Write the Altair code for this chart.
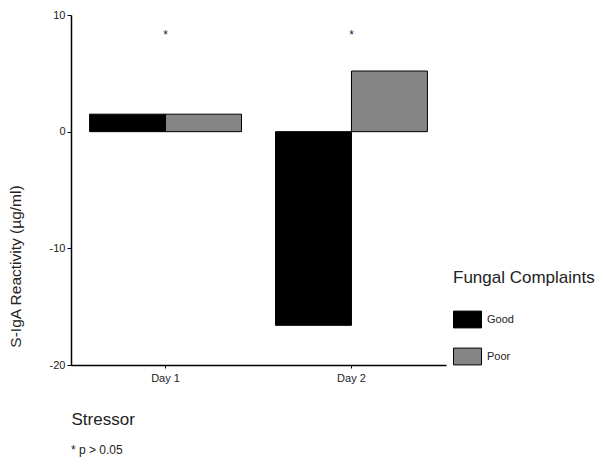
import altair as alt
import pandas as pd

days = ["Day 1", "Day 1", "Day 2", "Day 2"]
complaints = ["Good", "Poor", "Good", "Poor"]
values = [1.5, 1.5, -16.6, 5.2]

sig_days = ["Day 1", "Day 2"]
sig_marks = ["*", "*"]
sig_y = [8.3, 8.3]

df = pd.DataFrame({"Stressor": days, "Fungal Complaints": complaints, "value": values})
sig = pd.DataFrame({"Stressor": sig_days, "mark": sig_marks, "y": sig_y})

FONT = "Liberation Sans"

x_scale = alt.Scale(domain=["Day 1", "Day 2"], paddingInner=0.183, paddingOuter=0.1)
y_scale = alt.Scale(domain=[-20, 10], nice=False)

bars = alt.Chart(df).mark_bar(stroke="#000", strokeWidth=1).encode(
    x=alt.X("Stressor:N", scale=x_scale, sort=["Day 1", "Day 2"],
            axis=alt.Axis(title="Stressor", labelAngle=0, labelFontSize=11, labelColor="#222",
                          titleFontSize=17, titleFontWeight="normal", titleColor="#222",
                          titleAnchor="start", titleAlign="left", titleX=0, titleY=46,
                          domainColor="#000", domainWidth=1.5, tickColor="#000", tickSize=3,
                          labelPadding=4)),
    xOffset=alt.XOffset("Fungal Complaints:N", scale=alt.Scale(paddingInner=0, paddingOuter=0)),
    y=alt.Y("value:Q", scale=y_scale,
            axis=alt.Axis(title="S-IgA Reactivity (µg/ml)", values=[-20, -10, 0, 10], grid=False,
                          labelFontSize=11, labelColor="#222",
                          labelExpr="replace(datum.label, '−', '-')",
                          titleFontSize=15.5, titleFontWeight="normal", titleColor="#222",
                          titleX=-48, titleY=251,
                          domainColor="#000", domainWidth=1.5, tickColor="#000", tickSize=4)),
    color=alt.Color("Fungal Complaints:N",
                    scale=alt.Scale(domain=["Good", "Poor"], range=["#000000", "#858585"]),
                    legend=alt.Legend(orient="none", legendX=382, legendY=255,
                                      titleFontSize=17, titleFontWeight="normal", titleColor="#222",
                                      titlePadding=18, labelFontSize=11, labelColor="#222",
                                      symbolType="M-1,-0.6L1,-0.6L1,0.6L-1,0.6Z", symbolSize=784,
                                      symbolStrokeColor="#000", symbolStrokeWidth=1,
                                      labelOffset=5, rowPadding=12)),
)

marks = alt.Chart(sig).mark_text(fontSize=12, font=FONT, color="#222").encode(
    x=alt.X("Stressor:N", scale=x_scale, sort=["Day 1", "Day 2"]),
    y=alt.Y("y:Q", scale=y_scale),
    text="mark:N",
)

chart = alt.layer(bars, marks).properties(
    width=375, height=350,
    title=alt.TitleParams("* p > 0.05", orient="bottom", anchor="start", frame="group",
                          fontSize=12, fontWeight="normal", color="#222", font=FONT, offset=18),
    autosize=alt.AutoSizeParams(type="none"),
    padding={"left": 63, "top": 7, "right": 149, "bottom": 99},
).configure(font=FONT).configure_view(stroke=None)

chart.save("out.html", embed_options={"renderer": "svg", "actions": False})
